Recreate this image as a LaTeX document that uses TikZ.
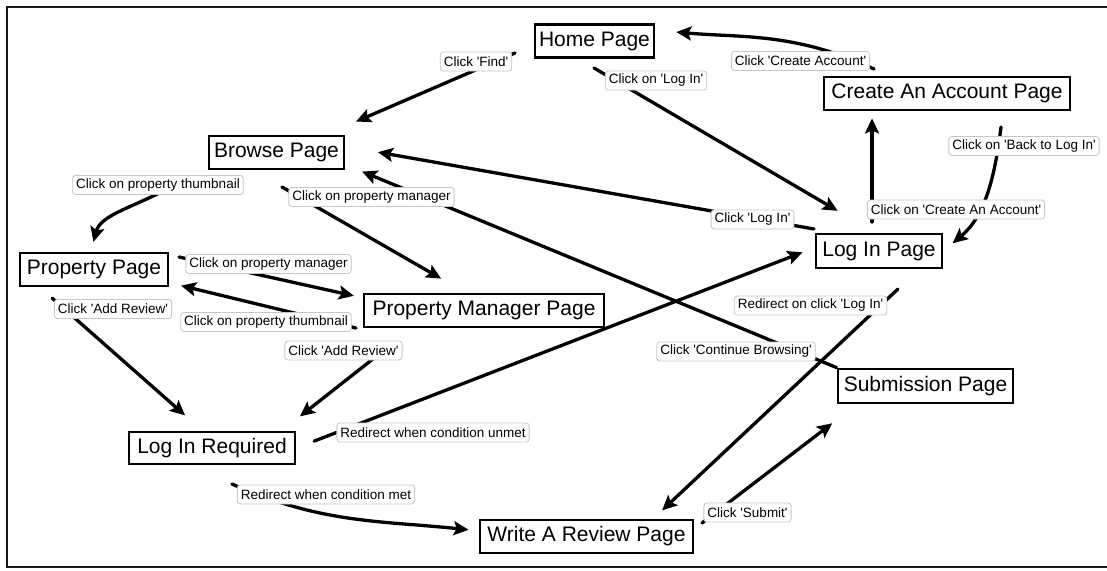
\documentclass[tikz,border=0pt]{standalone}
\usepackage{fontspec}
\setmainfont{Liberation Sans}
\usetikzlibrary{arrows.meta}
\newlength{\du}
\setlength{\du}{1\unitlength}
\newcommand{\pagefont}{\fontsize{21}{25}\selectfont}
\newcommand{\clickfont}{\fontsize{13.5}{16}\selectfont}
\newcommand{\sq}{\textquotesingle}
\tikzset{
  pagebox/.style={draw=black, fill=white, line width=2.8\du, font=\pagefont,
    minimum height=33\du, inner sep=0pt},
  clicklabel/.style={draw=black!22, fill=white, rounded corners=3\du, line width=0.9\du,
    font=\clickfont, minimum height=19\du, inner xsep=3.5\du, inner ysep=0pt},
  flow/.style={line width=3.3\du, line cap=round,
    -{Stealth[length=15pt,width=14pt,inset=3pt]}},
}

\begin{document}
\begin{tikzpicture}
\pgftransformxscale{1.000000}
\pgftransformyscale{-1.000000}
\useasboundingbox (0\du,0\du) rectangle (1107.000000\du,570.000000\du);
\definecolor{dialinecolor}{rgb}{0.100000, 0.100000, 0.100000}
\draw[draw=dialinecolor, line width=2.4\du] (1107.000000\du,7.000000\du)--(7.000000\du,7.000000\du)--(7.000000\du,567.000000\du)--(1107.000000\du,567.000000\du);
% pages
\node[pagebox, minimum width=119\du] (home) at (594.500000\du,41.000000\du) {Home Page};
\node[pagebox, minimum width=246\du] (create) at (947.000000\du,93.500000\du) {Create An Account Page};
\node[pagebox, minimum width=135\du] (browse) at (276.500000\du,152.500000\du) {Browse Page};
\node[pagebox, minimum width=126\du, minimum height=34\du] (login) at (879.000000\du,251.000000\du) {Log In Page};
\node[pagebox, minimum width=148\du] (prop) at (94.000000\du,269.500000\du) {Property Page};
\node[pagebox, minimum width=240\du] (pm) at (484.000000\du,310.500000\du) {Property Manager Page};
\node[pagebox, minimum width=175\du, minimum height=34\du] (subm) at (925.500000\du,386.000000\du) {Submission Page};
\node[pagebox, minimum width=166\du, minimum height=32\du] (lir) at (212.000000\du,448.000000\du) {Log In Required};
\node[pagebox, minimum width=213\du] (write) at (586.500000\du,536.500000\du) {Write A Review Page};
% loose ends
\coordinate (findS) at (515.000000\du,53.000000\du);
\coordinate (loginS) at (594.000000\du,68.000000\du);
\coordinate (createS) at (874.000000\du,69.000000\du);
\coordinate (tocreateS) at (872.000000\du,222.000000\du);
\coordinate (backS) at (1001.000000\du,127.000000\du);
\coordinate (logclickS) at (814.000000\du,229.000000\du);
\coordinate (thumbS) at (165.000000\du,190.000000\du);
\coordinate (mgrS) at (282.000000\du,187.000000\du);
\coordinate (mgrtwoS) at (179.000000\du,257.000000\du);
\coordinate (thumbtwoS) at (356.000000\du,328.000000\du);
\coordinate (reviewS) at (52.000000\du,298.000000\du);
\coordinate (reviewtwoS) at (392.000000\du,344.000000\du);
\coordinate (metS) at (232.000000\du,484.000000\du);
\coordinate (redirS) at (898.000000\du,289.000000\du);
\coordinate (submitS) at (702.000000\du,523.000000\du);
% connectors
\draw[flow, shorten >=33\du] (findS) -- (browse.20);
\draw[flow, shorten >=43\du] (loginS) -- (login.103);
\draw[flow, shorten >=21\du] (createS) to[out=-155,in=5] (home.10);
\draw[flow, shorten >=7\du] (tocreateS) -- (tocreateS |- create.south);
\draw[flow, shorten >=12\du] (backS) to[out=97,in=-40] (login.east);
\draw[flow, shorten >=33\du] (logclickS) -- (browse.5);
\draw[flow, shorten >=18\du] (subm.north west) -- (browse.-10);
\draw[flow, shorten >=10\du] (thumbS) to[out=152,in=-75] (prop.100);
\draw[flow, shorten >=28\du] (mgrS) -- (pm.136);
\draw[flow, shorten >=9\du] (mgrtwoS) -- (pm.174);
\draw[flow, shorten >=12\du] (thumbtwoS) -- (prop.-10);
\draw[flow, shorten >=23\du] (reviewS) -- (lir.119);
\draw[flow, shorten >=23\du] (reviewtwoS) -- (lir.14);
\draw[flow, shorten <=19\du, shorten >=13\du] (lir.east) -- (login.177);
\draw[flow, shorten >=10\du] (metS) to[out=24,in=-174] (write.177);
\draw[flow, shorten >=12\du] (redirS) -- (write.15);
\draw[flow, shorten >=31\du] (submitS) -- (subm.195);
% labels
\node[clicklabel] (findL) at (476.000000\du,61.500000\du) {Click \sq Find\sq};
\node[clicklabel] (loginL) at (656.000000\du,80.500000\du) {Click on \sq Log In\sq};
\node[clicklabel] (createL) at (800.500000\du,61.000000\du) {Click \sq Create Account\sq};
\node[clicklabel] (tocreateL) at (956.000000\du,209.500000\du) {Click on \sq Create An Account\sq};
\node[clicklabel] (backL) at (1024.000000\du,146.000000\du) {Click on \sq Back to Log In\sq};
\node[clicklabel] (logclickL) at (752.500000\du,219.500000\du) {Click \sq Log In\sq};
\node[clicklabel] (contL) at (736.000000\du,351.500000\du) {Click \sq Continue Browsing\sq};
\node[clicklabel] (thumbL) at (158.000000\du,185.000000\du) {Click on property thumbnail};
\node[clicklabel] (mgrL) at (371.500000\du,197.000000\du) {Click on property manager};
\node[clicklabel] (mgrtwoL) at (268.500000\du,264.000000\du) {Click on property manager};
\node[clicklabel] (thumbtwoL) at (266.000000\du,322.000000\du) {Click on property thumbnail};
\node[clicklabel] (reviewL) at (113.000000\du,309.000000\du) {Click \sq Add Review\sq};
\node[clicklabel] (reviewtwoL) at (343.500000\du,350.500000\du) {Click \sq Add Review\sq};
\node[clicklabel] (unmetL) at (433.000000\du,432.500000\du) {Redirect when condition unmet};
\node[clicklabel] (metL) at (326.000000\du,494.500000\du) {Redirect when condition met};
\node[clicklabel] (redirL) at (810.500000\du,305.500000\du) {Redirect on click \sq Log In\sq};
\node[clicklabel] (submitL) at (747.500000\du,512.500000\du) {Click \sq Submit\sq};
\end{tikzpicture}
\end{document}
